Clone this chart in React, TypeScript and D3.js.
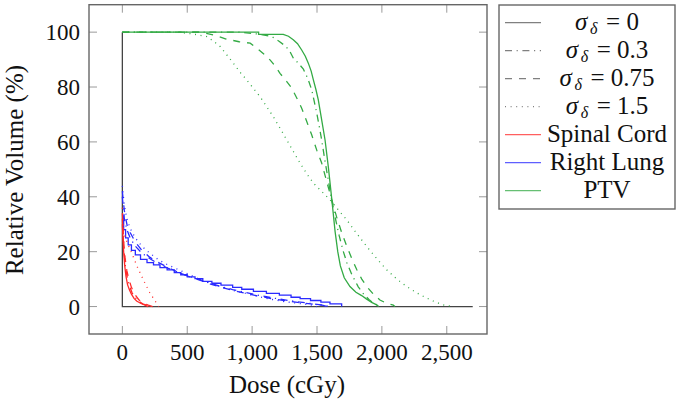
import * as d3 from "d3";

// dose (cGy) vs relative volume (%) for each structure and sigma
const ptvS0: [number, number][] = [
  [0, 100], [1050, 100], [1050, 99.2], [1240, 99.2], [1280, 98.5], [1317, 97.2], [1350, 95.8],
  [1382, 93.5], [1410, 91.2], [1433, 88.7], [1455, 85.8], [1472, 82.6], [1492, 79], [1510, 75.3],
  [1536, 68], [1562, 60.7], [1587, 51], [1613, 39.5], [1639, 27.5], [1660, 20], [1680, 14.8],
  [1710, 10.5], [1754, 7.3], [1800, 5.2], [1844, 4.0], [1880, 2.8], [1921, 1.5], [1960, 0.6], [1975, 0],
];
const ptvS03: [number, number][] = [
  [0, 100], [900, 100], [1050, 99.3], [1151, 98.4], [1210, 96.6], [1260, 94.8], [1292, 92.9],
  [1318, 90.5], [1360, 88.5], [1395, 86.5], [1430, 83], [1459, 79], [1480, 74.5], [1498, 70.5],
  [1518, 65.5], [1536, 60.7], [1560, 53.5], [1587, 46], [1613, 39], [1640, 32.5], [1670, 26],
  [1700, 20.5], [1730, 16], [1770, 11.5], [1818, 7.2], [1860, 4.5], [1900, 2.6], [1934, 1.2],
  [1970, 0.4], [1985, 0],
];
const ptvS075: [number, number][] = [
  [0, 100], [600, 100], [700, 99], [800, 97.5], [900, 96.5], [985, 96], [1035, 94.2], [1090, 92],
  [1138, 89.9], [1180, 87.5], [1215, 85], [1267, 82], [1305, 79.6], [1344, 76], [1382, 72.3],
  [1421, 67.4], [1459, 62.6], [1498, 57], [1536, 52.3], [1575, 45.5], [1613, 39], [1652, 32.5],
  [1690, 27], [1729, 22], [1768, 17.5], [1806, 13.5], [1845, 10], [1883, 7.3], [1935, 4.5],
  [1985, 2.4], [2040, 1.1], [2088, 0.5], [2100, 0],
];
const ptvS15: [number, number][] = [
  [0, 100], [420, 100], [550, 99.3], [650, 98.4], [700, 96.8], [753, 94.8], [800, 92], [855, 88.7],
  [905, 85.5], [958, 82.6], [1010, 79.5], [1061, 76.5], [1110, 73], [1163, 69.2], [1215, 65],
  [1267, 60.7], [1318, 56.5], [1369, 52.3], [1420, 48.5], [1472, 45], [1535, 42], [1600, 38.9],
  [1665, 35.2], [1729, 31.6], [1805, 26.7], [1883, 21.9], [1960, 17.5], [2037, 13.4], [2115, 10],
  [2191, 7.3], [2268, 5], [2345, 3.1], [2410, 1.7], [2473, 0.6], [2550, 0],
];

const lungS0: [number, number][] = [
  [0, 33], [10, 28], [25, 25], [45, 22.5], [70, 20.5], [100, 18.8], [140, 17.2], [190, 16],
  [240, 15.2], [290, 14.2], [345, 13.4], [400, 12.4], [450, 11.6], [500, 10.8], [560, 10.2],
  [620, 9.2], [690, 8.5], [760, 7.8], [850, 7.0], [920, 6.3], [1010, 5.5], [1110, 4.8], [1210, 4.2],
  [1300, 3.4], [1370, 2.9], [1450, 2.2], [1530, 1.6], [1600, 1.0], [1690, 0.4], [1690, 0],
];
const lungS03: [number, number][] = [
  [0, 40], [15, 32], [35, 28], [60, 25], [100, 22], [150, 19.5], [210, 17.5], [280, 15.5],
  [350, 14], [430, 12.5], [510, 11], [600, 9.8], [680, 8.5], [760, 7.3], [850, 6.2], [940, 5.2],
  [1040, 4.2], [1140, 3.3], [1240, 2.5], [1340, 1.8], [1440, 1.2], [1530, 0.6], [1600, 0],
];
const lungS075: [number, number][] = [
  [0, 42], [15, 35], [35, 30], [60, 27], [100, 23.5], [150, 20.5], [210, 18], [280, 16],
  [350, 14.3], [430, 12.5], [510, 11], [590, 9.7], [680, 8.2], [770, 6.9], [860, 5.8], [950, 4.8],
  [1050, 3.8], [1150, 2.9], [1250, 2.2], [1350, 1.5], [1450, 1], [1540, 0.5], [1580, 0],
];
const lungS15: [number, number][] = [
  [0, 44], [15, 37], [35, 32], [60, 28.5], [100, 25], [150, 22], [210, 19.5], [280, 17],
  [350, 15.2], [430, 13.5], [510, 11.8], [590, 10], [680, 8.4], [770, 7], [860, 5.8], [950, 4.8],
  [1050, 3.6], [1150, 2.6], [1250, 1.8], [1350, 1.2], [1450, 0.6], [1500, 0],
];

const cordS0: [number, number][] = [
  [0, 30], [5, 25], [10, 20], [18, 15], [28, 11], [40, 8], [55, 6], [70, 4.5], [90, 3],
  [110, 2], [140, 1.2], [170, 0.6], [200, 0],
];
const cordS03: [number, number][] = [
  [0, 32], [8, 24], [15, 19], [25, 14], [40, 10], [55, 7.5], [75, 5], [100, 3.2], [130, 1.8],
  [160, 0.9], [200, 0.3], [215, 0],
];
const cordS075: [number, number][] = [
  [0, 34], [10, 24], [20, 18], [35, 13], [50, 10], [70, 7], [95, 4.5], [125, 2.6], [160, 1.3],
  [200, 0.5], [235, 0],
];
const cordS15: [number, number][] = [
  [0, 36], [10, 27], [40, 23], [72, 19.5], [115, 14.5], [162, 9.7], [210, 5.2], [250, 2.2], [280, 0],
];

// reference (black) outline drawn by the sigma = 0 entry
const baseLine: [number, number][] = [[0, 100], [0, 0], [2700, 0]];

const xTicks = [0, 500, 1000, 1500, 2000, 2500];
const yTicks = [0, 20, 40, 60, 80, 100];

const sigmaLabels = ["0", "0.3", "0.75", "1.5"];
const structureLabels = ["Spinal Cord", "Right Lung", "PTV"];

const dashes = ["none", "7 4.6 1.2 4.6", "7 7", "1 4.6"];
const colors = { cord: "#ff2a2a", lung: "#2a2aff", ptv: "#33aa44" };

const W = 686;
const H = 405;
const frame = { left: 89, right: 487, top: 4.7, bottom: 334 };
const font = "Liberation Serif";
const fs = 25;

// rough advance widths (em) for laying out "σδ = value" as separate texts
const charEm = (s: string) =>
  s.split("").reduce((a, c) => a + (c === "." ? 0.25 : c === " " ? 0.25 : c === "=" ? 0.564 : 0.5), 0);

const App = () => {
  const x = d3.scaleLinear().domain([-257, 2810]).range([frame.left, frame.right]);
  const y = d3.scaleLinear().domain([-10, 110]).range([frame.bottom, frame.top]);

  const line = d3
    .line<[number, number]>()
    .x((d) => x(d[0]))
    .y((d) => y(d[1]));
  const stepLine = d3
    .line<[number, number]>()
    .x((d) => x(d[0]))
    .y((d) => y(d[1]))
    .curve(d3.curveStepAfter);

  const fmt = d3.format(",");

  const series = [
    { data: ptvS15, color: colors.ptv, dash: dashes[3], step: false },
    { data: ptvS075, color: colors.ptv, dash: dashes[2], step: false },
    { data: ptvS03, color: colors.ptv, dash: dashes[1], step: false },
    { data: ptvS0, color: colors.ptv, dash: dashes[0], step: false },
    { data: lungS15, color: colors.lung, dash: dashes[3], step: false },
    { data: lungS075, color: colors.lung, dash: dashes[2], step: false },
    { data: lungS03, color: colors.lung, dash: dashes[1], step: false },
    { data: lungS0, color: colors.lung, dash: dashes[0], step: true },
    { data: cordS15, color: colors.cord, dash: dashes[3], step: false },
    { data: cordS075, color: colors.cord, dash: dashes[2], step: false },
    { data: cordS03, color: colors.cord, dash: dashes[1], step: false },
    { data: cordS0, color: colors.cord, dash: dashes[0], step: false },
  ];

  const legendItems = [
    ...sigmaLabels.map((s, i) => ({ sigma: s, text: "", color: "#555", dash: dashes[i] })),
    ...structureLabels.map((t, i) => ({
      sigma: "",
      text: t,
      color: [colors.cord, colors.lung, colors.ptv][i],
      dash: "none",
    })),
  ];
  const legend = { left: 499, right: 675, top: 5, bottom: 209, y0: 22.7, dy: 28 };
  const legendX = d3.scaleLinear().domain([0, 1]).range([505, 541]);
  const legendCx = 607;

  return (
    <div style={{ position: "absolute", left: 0, top: 0 }}>
      <svg width={W} height={H} fontFamily={font} style={{ display: "block" }}>
        <rect width={W} height={H} fill="#fff" />
        <defs>
          <clipPath id="plot-clip">
            <rect
              x={frame.left}
              y={frame.top}
              width={frame.right - frame.left}
              height={frame.bottom - frame.top}
            />
          </clipPath>
        </defs>

        {/* tick marks inside the frame */}
        {xTicks.map((t) => (
          <g key={`xt${t}`} stroke="#9a9a9a" strokeWidth={1}>
            <line x1={x(t)} x2={x(t)} y1={frame.bottom} y2={frame.bottom - 8} />
            <line x1={x(t)} x2={x(t)} y1={frame.top} y2={frame.top + 8} />
          </g>
        ))}
        {yTicks.map((t) => (
          <g key={`yt${t}`} stroke="#9a9a9a" strokeWidth={1}>
            <line x1={frame.left} x2={frame.left + 8} y1={y(t)} y2={y(t)} />
            <line x1={frame.right} x2={frame.right - 8} y1={y(t)} y2={y(t)} />
          </g>
        ))}

        <g clipPath="url(#plot-clip)" fill="none">
          <path d={line(baseLine) || ""} stroke="#444" strokeWidth={1.3} />
          {series.map((s, i) => (
            <path
              key={i}
              d={(s.step ? stepLine : line)(s.data) || ""}
              stroke={s.color}
              strokeWidth={1.3}
              strokeDasharray={s.dash}
            />
          ))}
        </g>

        <rect
          x={frame.left}
          y={frame.top}
          width={frame.right - frame.left}
          height={frame.bottom - frame.top}
          fill="none"
          stroke="#666"
          strokeWidth={1.4}
        />

        {/* tick labels */}
        {xTicks.map((t) => (
          <text key={`xl${t}`} x={x(t)} y={360} textAnchor="middle" fontFamily={font} fontSize={23} fill="#111">
            {fmt(t)}
          </text>
        ))}
        {yTicks.map((t) => (
          <text key={`yl${t}`} x={80} y={y(t) + 8} textAnchor="end" fontFamily={font} fontSize={23} fill="#111">
            {t}
          </text>
        ))}

        <text x={287} y={393} textAnchor="middle" fontFamily={font} fontSize={25} fill="#111">
          Dose (cGy)
        </text>
        <text
          transform="translate(23,170) rotate(-90)"
          textAnchor="middle"
          fontFamily={font}
          fontSize={25}
          fill="#111"
        >
          Relative Volume (%)
        </text>

        {/* legend */}
        <rect
          x={legend.left}
          y={legend.top}
          width={legend.right - legend.left}
          height={legend.bottom - legend.top}
          fill="#fff"
          stroke="#666"
          strokeWidth={1.4}
        />
        {legendItems.map((it, i) => {
          const ly = legend.y0 + i * legend.dy;
          let label;
          if (it.sigma) {
            const eq = `= ${it.sigma}`;
            const wSigma = 15;
            const wSub = 16;
            const wEq = charEm(eq) * fs;
            const x0 = legendCx - (wSigma + wSub + wEq) / 2;
            label = (
              <g fontFamily={font} fill="#111">
                <text x={x0} y={ly + 7} fontSize={fs} fontStyle="italic">
                  σ
                </text>
                <text x={x0 + wSigma} y={ly + 11} fontSize={16} fontStyle="italic">
                  δ
                </text>
                <text x={x0 + wSigma + wSub} y={ly + 7} fontSize={fs}>
                  {eq}
                </text>
              </g>
            );
          } else {
            label = (
              <text x={legendCx} y={ly + 7} textAnchor="middle" fontFamily={font} fontSize={fs} fill="#111">
                {it.text}
              </text>
            );
          }
          return (
            <g key={`lg${i}`}>
              <line
                x1={legendX(0)}
                x2={legendX(1)}
                y1={ly}
                y2={ly}
                stroke={it.color}
                strokeWidth={1.3}
                strokeOpacity={0.75}
                strokeDasharray={it.dash}
              />
              {label}
            </g>
          );
        })}
      </svg>
    </div>
  );
};

export default App;
